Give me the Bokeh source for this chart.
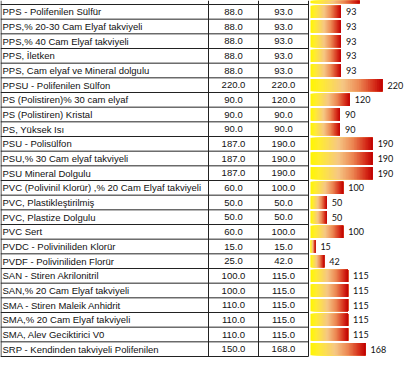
import numpy as np
from bokeh.plotting import figure
from bokeh.models import Range1d, ColumnDataSource
from bokeh.core.properties import value
from bokeh.embed import file_html
from bokeh.resources import INLINE

names = [
    "PPS - Polifenilen Sülfür",
    "PPS,% 20-30 Cam Elyaf takviyeli",
    "PPS,% 40 Cam Elyaf takviyeli",
    "PPS, İletken",
    "PPS, Cam elyaf ve Mineral dolgulu",
    "PPSU - Polifenilen Sülfon",
    "PS (Polistiren)% 30 cam elyaf",
    "PS (Polistiren) Kristal",
    "PS, Yüksek Isı",
    "PSU - Polisülfon",
    "PSU,% 30 Cam elyaf takviyeli",
    "PSU Mineral Dolgulu",
    "PVC (Polivinil Klorür) ,% 20 Cam Elyaf takviyeli",
    "PVC, Plastikleştirilmiş",
    "PVC, Plastize Dolgulu",
    "PVC Sert",
    "PVDC - Poliviniliden Klorür",
    "PVDF - Poliviniliden Florür",
    "SAN - Stiren Akrilonitril",
    "SAN,% 20 Cam Elyaf takviyeli",
    "SMA - Stiren Maleik Anhidrit",
    "SMA,% 20 Cam Elyaf takviyeli",
    "SMA, Alev Geciktirici V0",
    "SRP - Kendinden takviyeli Polifenilen",
]
min_vals = [88, 88, 88, 88, 88, 220, 90, 90, 90, 187, 187, 187, 60, 50, 50, 60,
            15, 25, 100, 100, 110, 110, 110, 150]
max_vals = [93, 93, 93, 93, 93, 220, 120, 90, 90, 190, 190, 190, 100, 50, 50, 100,
            15, 42, 115, 115, 115, 115, 115, 168]
# row cut off at the top edge of the picture (only its bar end is visible)
partial_max = 150

W, H = 404, 372
n = len(names)
row_h = 352 / n
y_top = -4 / row_h
y_bot = y_top + H / row_h

p = figure(width=W, height=H, output_backend="svg", toolbar_location=None,
           x_range=Range1d(0, W), y_range=Range1d(y_bot, y_top),
           min_border=0, outline_line_color=None)
p.axis.visible = False
p.grid.visible = False
p.background_fill_color = "white"
p.border_fill_color = "white"

upp = 1 / 0.327
vstart = -310 * upp
p.extra_x_ranges = {"val": Range1d(vstart, vstart + W * upp)}

# gradient colours (yellow -> peach -> orange -> dark red)
stops = [(0.0, (255, 245, 0)), (0.15, (255, 236, 50)), (0.45, (246, 198, 132)),
         (0.68, (236, 134, 82)), (0.88, (214, 48, 28)), (1.0, (192, 0, 0))]

def grad(t):
    for (t0, c0), (t1, c1) in zip(stops[:-1], stops[1:]):
        if t <= t1:
            f = (t - t0) / (t1 - t0)
            return "#%02x%02x%02x" % tuple(int(round(a + (b - a) * f)) for a, b in zip(c0, c1))
    return "#%02x%02x%02x" % stops[-1][1]

N = 40
all_vals = [partial_max] + max_vals
all_rows = [-1] + list(range(n))
ys, lefts, rights, cols = [], [], [], []
for r, v in zip(all_rows, all_vals):
    for k in range(N):
        ys.append(r + 0.5)
        lefts.append(v * k / N)
        rights.append(v)
        cols.append(grad((k + 0.5) / N))
p.hbar(y=ys, left=lefts, right=rights, height=0.84, fill_color=cols,
       line_color=None, x_range_name="val")

src = ColumnDataSource(dict(
    y=[i + 0.5 for i in range(n)],
    name=names,
    mn=["%.1f" % v for v in min_vals],
    mx=["%.1f" % v for v in max_vals],
    val=max_vals,
    lab=[str(v) for v in max_vals],
))

font = value("Liberation Sans")
fs = "9.5px"
p.text(x=2, y="y", text="name", source=src, text_font=font, text_font_size=fs,
       text_baseline="middle", text_color="#111111")
p.text(x=233, y="y", text="mn", source=src, text_font=font, text_font_size=fs,
       text_baseline="middle", text_align="center", text_color="#111111")
p.text(x=283, y="y", text="mx", source=src, text_font=font, text_font_size=fs,
       text_baseline="middle", text_align="center", text_color="#111111")
p.text(x="val", y="y", text="lab", source=src, x_range_name="val", x_offset=5,
       text_font=value("Lato"), text_font_size="9px", text_baseline="middle",
       text_color="#111111")

# table grid
hy = list(range(0, n + 1))
p.segment(x0=[0] * len(hy), x1=[308] * len(hy), y0=hy, y1=hy,
          line_color="#222222", line_width=1)
vx = [0.5, 208, 258, 308]
p.segment(x0=vx, x1=vx, y0=[y_top] * 4, y1=[n] * 4, line_color="#222222", line_width=1)

open("out.html", "w").write(file_html(p, INLINE))
